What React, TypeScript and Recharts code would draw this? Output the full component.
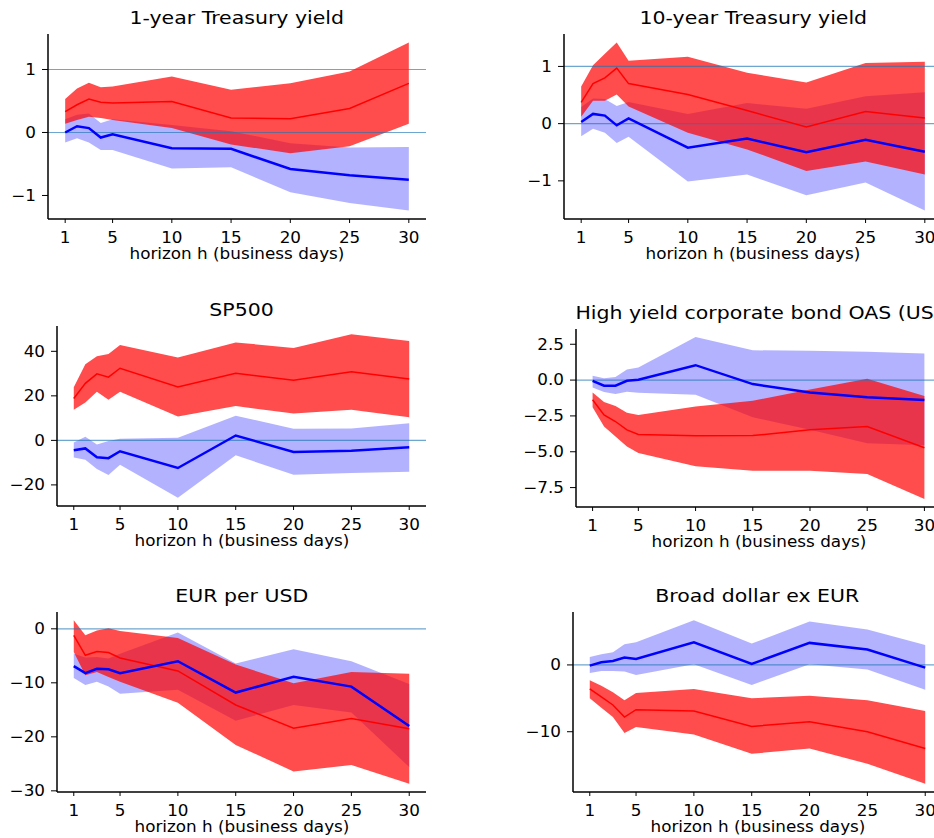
import { Area, ComposedChart, Line, ReferenceLine, XAxis, YAxis } from "recharts";

const horizons = [1, 2, 3, 4, 5, 10, 15, 20, 25, 30];
const xTicks = [1, 5, 10, 15, 20, 25, 30];

// 1-year Treasury yield
const t1Red = [0.33, 0.44, 0.53, 0.48, 0.47, 0.49, 0.23, 0.22, 0.38, 0.78];
const t1RedHi = [0.53, 0.7, 0.79, 0.72, 0.73, 0.89, 0.68, 0.78, 0.97, 1.43];
const t1RedLo = [0.14, 0.2, 0.25, 0.23, 0.2, 0.07, -0.19, -0.33, -0.22, 0.14];
const t1Blue = [0.0, 0.1, 0.07, -0.08, -0.03, -0.25, -0.26, -0.58, -0.68, -0.75];
const t1BlueHi = [0.21, 0.28, 0.3, 0.15, 0.21, 0.12, 0.02, -0.17, -0.24, -0.23];
const t1BlueLo = [-0.16, -0.09, -0.16, -0.28, -0.28, -0.57, -0.55, -0.95, -1.12, -1.24];

// 10-year Treasury yield
const t10Red = [0.37, 0.7, 0.8, 0.97, 0.7, 0.51, 0.23, -0.06, 0.21, 0.1];
const t10RedHi = [0.65, 1.02, 1.22, 1.42, 1.1, 1.17, 0.89, 0.72, 1.06, 1.08];
const t10RedLo = [0.12, 0.4, 0.4, 0.51, 0.3, -0.16, -0.45, -0.83, -0.66, -0.89];
const t10Blue = [0.03, 0.17, 0.14, -0.03, 0.09, -0.42, -0.26, -0.5, -0.28, -0.49];
const t10BlueHi = [0.29, 0.44, 0.43, 0.31, 0.38, 0.17, 0.36, 0.26, 0.48, 0.55];
const t10BlueLo = [-0.22, -0.09, -0.16, -0.34, -0.23, -1.01, -0.89, -1.25, -1.03, -1.52];

// SP500
const spRed = [18.8, 25.6, 29.9, 28.4, 32.4, 24.0, 30.1, 27.0, 30.8, 27.6];
const spRedHi = [23.9, 34.2, 37.8, 38.8, 42.8, 37.2, 44.0, 41.5, 47.7, 44.6];
const spRedLo = [13.8, 17.0, 21.8, 18.2, 21.8, 10.7, 15.4, 12.1, 13.8, 10.4];
const spBlue = [-4.4, -3.6, -7.6, -8.0, -4.9, -12.4, 2.2, -5.2, -4.7, -3.1];
const spBlueHi = [-1.0, 1.6, -1.9, -0.3, 0.7, 1.2, 11.1, 5.2, 5.3, 7.7];
const spBlueLo = [-7.7, -8.7, -12.9, -15.6, -11.0, -25.8, -6.7, -15.4, -14.7, -14.1];

// High yield OAS
const hyRed = [-1.37, -2.43, -2.89, -3.47, -3.8, -3.89, -3.87, -3.47, -3.24, -4.72];
const hyRedHi = [-0.86, -1.53, -1.8, -2.27, -2.43, -1.85, -1.44, -0.65, 0.09, -1.11];
const hyRedLo = [-1.9, -3.24, -3.94, -4.63, -5.09, -6.02, -6.32, -6.32, -6.55, -8.29];
const hyBlue = [-0.05, -0.39, -0.39, -0.05, 0.02, 1.04, -0.28, -0.86, -1.2, -1.39];
const hyBlueHi = [0.3, 0.12, 0.21, 0.74, 0.88, 3.0, 2.08, 2.04, 1.97, 1.85];
const hyBlueLo = [-0.51, -0.83, -0.97, -0.81, -0.88, -1.02, -2.59, -3.47, -4.4, -4.54];

// EUR per USD
const eurRed = [-1.2, -4.9, -4.2, -4.4, -5.4, -7.8, -14.1, -18.4, -16.6, -18.5];
const eurRedHi = [1.6, -1.2, -0.3, 0.1, -0.4, -1.7, -6.6, -10.1, -8.0, -8.3];
const eurRedLo = [-4.3, -8.6, -8.0, -8.9, -9.8, -13.7, -21.5, -26.4, -25.2, -28.7];
const eurBlue = [-6.9, -8.2, -7.4, -7.5, -8.2, -6.0, -11.8, -8.9, -10.7, -18.0];
const eurBlueHi = [-4.6, -5.3, -5.2, -5.5, -4.6, -0.7, -6.4, -3.8, -6.0, -10.2];
const eurBlueLo = [-9.1, -10.4, -9.8, -10.7, -12.0, -11.3, -17.0, -14.1, -15.5, -25.6];

// Broad dollar ex EUR
const bdRed = [-3.6, -4.8, -6.0, -7.8, -6.7, -6.9, -9.2, -8.5, -10.0, -12.5];
const bdRedHi = [-2.3, -3.1, -4.1, -5.3, -4.2, -3.6, -5.0, -4.6, -5.3, -6.9];
const bdRedLo = [-5.0, -6.4, -7.8, -10.2, -9.3, -10.4, -13.3, -12.5, -14.8, -17.8];
const bdBlue = [-0.1, 0.4, 0.6, 1.1, 0.9, 3.4, 0.15, 3.3, 2.3, -0.4];
const bdBlueHi = [1.2, 1.6, 1.9, 3.1, 3.4, 6.7, 3.2, 6.5, 5.3, 3.0];
const bdBlueLo = [-1.2, -0.9, -0.9, -1.0, -1.5, 0.1, -3.0, 0.1, -0.7, -3.7];

const FONT = "'DejaVu Sans', sans-serif";
const TICK_SIZE = 15;
const STRETCH = 1.12;
const YW = 70;
const MT = 10;
const MR = 4;
const XH = 30;

type Series = {
  red: number[];
  redHi: number[];
  redLo: number[];
  blue: number[];
  blueHi: number[];
  blueLo: number[];
};

type PanelProps = {
  title: string;
  s: Series;
  yTicks: number[];
  hlines: number[];
  decimals?: number;
  left: number;
  top: number;
  width: number;
  height: number;
};

const fmt = (v: number, d: number) => {
  const t = Math.abs(v).toFixed(d);
  return v < 0 ? "\u2212" + t : t;
};

function Caption({ text, cx, cy, size, k }: { text: string; cx: number; cy: number; size: number; k: number }) {
  return (
    <div
      style={{
        position: "absolute",
        left: cx - 300,
        top: cy - size * 0.6,
        width: 600,
        textAlign: "center",
        fontFamily: FONT,
        fontSize: size,
        lineHeight: `${size * 1.2}px`,
        whiteSpace: "nowrap",
        color: "#000",
      }}
    >
      <span style={{ display: "inline-block", transform: `scaleX(${k})` }}>{text}</span>
    </div>
  );
}

function Panel({ title, s, yTicks, hlines, decimals = 0, left, top, width, height }: PanelProps) {
  const data = horizons.map((h, i) => ({
    h,
    red: s.red[i],
    blue: s.blue[i],
    redBand: [s.redLo[i], s.redHi[i]],
    blueBand: [s.blueLo[i], s.blueHi[i]],
  }));
  const all = [...s.redHi, ...s.redLo, ...s.blueHi, ...s.blueLo, ...s.red, ...s.blue];
  const lo = Math.min(...all);
  const hi = Math.max(...all);
  const pad = (hi - lo) * 0.05;

  const xTick = ({ x, y, payload }: any) => (
    <g transform={`translate(${x},${y}) scale(${STRETCH},1)`}>
      <text textAnchor="middle" dy="0.71em" fontFamily={FONT} fontSize={TICK_SIZE} fill="#000">
        {payload.value}
      </text>
    </g>
  );
  const yTick = ({ x, y, payload }: any) => (
    <g transform={`translate(${x},${y}) scale(${STRETCH},1)`}>
      <text textAnchor="end" dy="0.355em" fontFamily={FONT} fontSize={TICK_SIZE} fill="#000">
        {fmt(payload.value, decimals)}
      </text>
    </g>
  );

  return (
    <>
      <Caption text={title} cx={left + width / 2} cy={top - 16} size={17.5} k={1.17} />
      <Caption text="horizon h (business days)" cx={left + width / 2} cy={top + height + 35} size={TICK_SIZE} k={STRETCH} />
      <div style={{ position: "absolute", left: left - YW, top: top - MT }}>
        <ComposedChart
          width={width + YW + MR}
          height={height + MT + XH}
          data={data}
          margin={{ top: MT, right: MR, left: 0, bottom: 0 }}
        >
          <XAxis
            dataKey="h"
            type="number"
            domain={[-0.45, 31.45]}
            ticks={xTicks}
            interval={0}
            allowDataOverflow
            height={XH}
            tickSize={4}
            tickMargin={9}
            tick={xTick}
            axisLine={{ stroke: "#000", strokeWidth: 1.3 }}
            tickLine={{ stroke: "#000", strokeWidth: 1 }}
          />
          <YAxis
            type="number"
            domain={[lo - pad, hi + pad]}
            ticks={yTicks}
            interval={0}
            allowDataOverflow
            width={YW}
            tickSize={6}
            tickMargin={6}
            tick={yTick}
            axisLine={{ stroke: "#000", strokeWidth: 1.5 }}
            tickLine={{ stroke: "#000", strokeWidth: 1 }}
          />
          <Area
            dataKey="blueBand"
            type="linear"
            stroke="none"
            fill="#0000ff"
            fillOpacity={0.3}
            isAnimationActive={false}
          />
          <Area
            dataKey="redBand"
            type="linear"
            stroke="none"
            fill="#ff0000"
            fillOpacity={0.7}
            isAnimationActive={false}
          />
          {hlines.map((v) => (
            <ReferenceLine key={v} y={v} stroke="#1f77b4" strokeOpacity={0.65} strokeWidth={1.2} />
          ))}
          <Line dataKey="red" type="linear" stroke="#ff0000" strokeWidth={1.5} dot={false} isAnimationActive={false} />
          <Line dataKey="blue" type="linear" stroke="#0000ff" strokeWidth={2.5} dot={false} isAnimationActive={false} />
        </ComposedChart>
      </div>
    </>
  );
}

export default function App() {
  return (
    <div
      style={{
        position: "absolute",
        left: 0,
        top: 0,
        width: 934,
        height: 838,
        overflow: "hidden",
        background: "#fff",
      }}
    >
      <Panel
        title="1-year Treasury yield"
        s={{ red: t1Red, redHi: t1RedHi, redLo: t1RedLo, blue: t1Blue, blueHi: t1BlueHi, blueLo: t1BlueLo }}
        yTicks={[-1, 0, 1]}
        hlines={[0, 1]}
        left={48}
        top={34}
        width={378}
        height={185}
      />
      <Panel
        title="10-year Treasury yield"
        s={{ red: t10Red, redHi: t10RedHi, redLo: t10RedLo, blue: t10Blue, blueHi: t10BlueHi, blueLo: t10BlueLo }}
        yTicks={[-1, 0, 1]}
        hlines={[0, 1]}
        left={564}
        top={34}
        width={378}
        height={185}
      />
      <Panel
        title="SP500"
        s={{ red: spRed, redHi: spRedHi, redLo: spRedLo, blue: spBlue, blueHi: spBlueHi, blueLo: spBlueLo }}
        yTicks={[-20, 0, 20, 40]}
        hlines={[0]}
        left={57}
        top={326}
        width={369}
        height={180}
      />
      <Panel
        title="High yield corporate bond OAS (US)"
        s={{ red: hyRed, redHi: hyRedHi, redLo: hyRedLo, blue: hyBlue, blueHi: hyBlueHi, blueLo: hyBlueLo }}
        yTicks={[-7.5, -5, -2.5, 0, 2.5]}
        hlines={[0]}
        decimals={1}
        left={576}
        top={329}
        width={365}
        height={178}
      />
      <Panel
        title="EUR per USD"
        s={{ red: eurRed, redHi: eurRedHi, redLo: eurRedLo, blue: eurBlue, blueHi: eurBlueHi, blueLo: eurBlueLo }}
        yTicks={[-30, -20, -10, 0]}
        hlines={[0]}
        left={57}
        top={612}
        width={369}
        height={180}
      />
      <Panel
        title="Broad dollar ex EUR"
        s={{ red: bdRed, redHi: bdRedHi, redLo: bdRedLo, blue: bdBlue, blueHi: bdBlueHi, blueLo: bdBlueLo }}
        yTicks={[-10, 0]}
        hlines={[0]}
        left={573}
        top={612}
        width={369}
        height={180}
      />
    </div>
  );
}
